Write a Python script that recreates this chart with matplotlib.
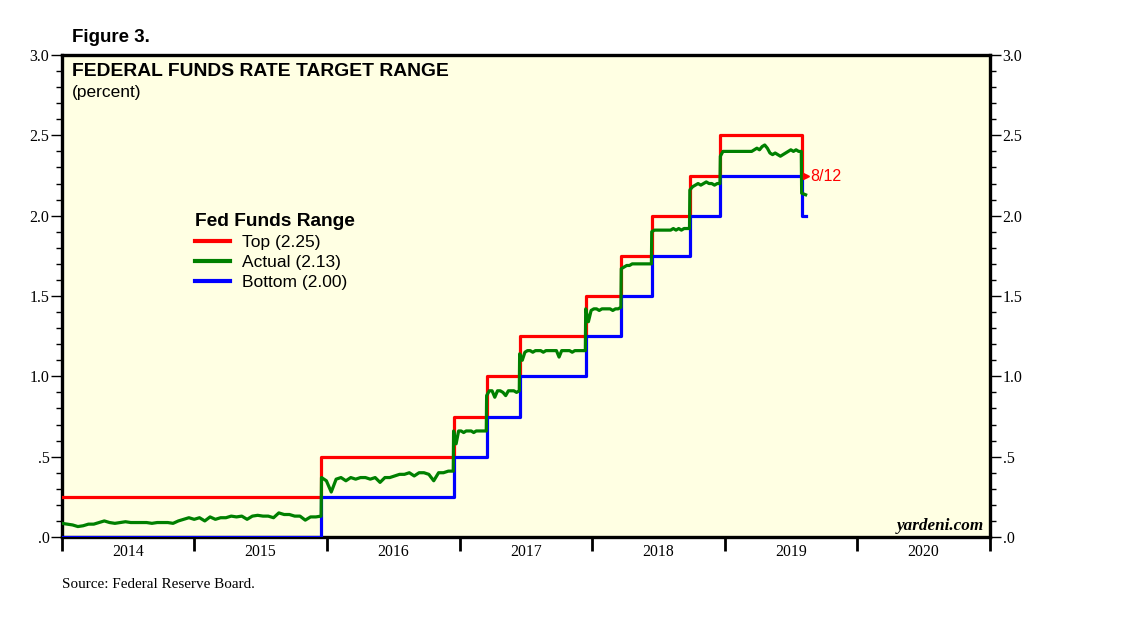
import numpy as np
import pandas as pd
import matplotlib
matplotlib.use("Agg")
from matplotlib import pyplot as plt
import matplotlib.dates as mdates
from matplotlib.ticker import FixedLocator, NullFormatter, FuncFormatter

# target range changes (effective dates)
range_dates = ["2014-01-01", "2015-12-17", "2016-12-15", "2017-03-16", "2017-06-15",
               "2017-12-14", "2018-03-22", "2018-06-14", "2018-09-27", "2018-12-20",
               "2019-08-01", "2019-08-12"]
top_rate = [0.25, 0.50, 0.75, 1.00, 1.25, 1.50, 1.75, 2.00, 2.25, 2.50, 2.25, 2.25]
bottom_rate = [0.00, 0.25, 0.50, 0.75, 1.00, 1.25, 1.50, 1.75, 2.00, 2.25, 2.00, 2.00]

# effective fed funds rate readings, one list per target regime
actual_by_regime = [
    [0.085, 0.08, 0.075, 0.065, 0.07, 0.08, 0.08, 0.09, 0.10, 0.09,
     0.085, 0.09, 0.095, 0.09, 0.09, 0.09, 0.09, 0.085, 0.09, 0.09,
     0.09, 0.085, 0.10, 0.11, 0.12, 0.11, 0.12, 0.10, 0.125, 0.11,
     0.12, 0.12, 0.13, 0.125, 0.13, 0.11, 0.13, 0.135, 0.13, 0.13,
     0.12, 0.15, 0.14, 0.14, 0.13, 0.13, 0.105, 0.125, 0.125, 0.13],
    [0.37, 0.35, 0.28, 0.36, 0.37, 0.35, 0.37, 0.36, 0.37, 0.37,
     0.36, 0.37, 0.34, 0.37, 0.37, 0.38, 0.39, 0.39, 0.40, 0.38,
     0.40, 0.40, 0.39, 0.35, 0.40, 0.40, 0.41, 0.41],
    [0.66, 0.58, 0.66, 0.66, 0.65, 0.66, 0.66, 0.66, 0.65, 0.66,
     0.66, 0.66, 0.66, 0.66],
    [0.88, 0.91, 0.91, 0.87, 0.91, 0.91, 0.90, 0.88, 0.91, 0.91,
     0.91, 0.90, 0.91],
    [1.14, 1.10, 1.15, 1.16, 1.16, 1.15, 1.16, 1.16, 1.16, 1.15,
     1.16, 1.16, 1.16, 1.16, 1.16, 1.12, 1.16, 1.16, 1.16, 1.16,
     1.15, 1.16, 1.16, 1.16, 1.16, 1.16],
    [1.42, 1.34, 1.41, 1.42, 1.42, 1.41, 1.42, 1.42, 1.42, 1.42,
     1.41, 1.42, 1.42, 1.43],
    [1.67, 1.68, 1.69, 1.69, 1.70, 1.70, 1.70, 1.70, 1.70, 1.70,
     1.70, 1.70],
    [1.90, 1.91, 1.91, 1.91, 1.91, 1.91, 1.91, 1.91, 1.92, 1.91,
     1.92, 1.91, 1.92, 1.92, 1.92],
    [2.16, 2.18, 2.19, 2.20, 2.19, 2.20, 2.21, 2.20, 2.20, 2.19,
     2.20, 2.20],
    [2.37, 2.40, 2.40, 2.40, 2.40, 2.40, 2.40, 2.40, 2.40, 2.40,
     2.40, 2.40, 2.40, 2.41, 2.42, 2.41, 2.43, 2.44, 2.42, 2.39,
     2.38, 2.39, 2.38, 2.37, 2.38, 2.39, 2.40, 2.41, 2.40, 2.41,
     2.40, 2.40],
    [2.14, 2.13],
]

years = ["2014", "2015", "2016", "2017", "2018", "2019", "2020"]
ytick_labels = [".0", ".5", "1.0", "1.5", "2.0", "2.5", "3.0"]

# spread each regime's readings over its own dates
rd = mdates.date2num(pd.to_datetime(range_dates))
act_x, act_y = [], []
for i, vals in enumerate(actual_by_regime):
    end = rd[i + 1] - 1 if i + 1 < len(rd) - 1 else rd[-1]
    act_x.extend(np.linspace(rd[i], end, len(vals)))
    act_y.extend(vals)

font_sans = "Liberation Sans"
font_serif = "Liberation Serif"

fig = plt.figure(figsize=(11.38, 6.38), dpi=100)
ax = fig.add_axes([62/1138, 1-537/638, 928/1138, 482/638])
ax.set_facecolor("#FFFFE3")

ax.plot(rd, top_rate, drawstyle="steps-post", color="#FF0000", lw=2.3, label="Top (2.25)", zorder=3)
ax.plot(rd, bottom_rate, drawstyle="steps-post", color="#0000FF", lw=2.3, label="Bottom (2.00)", zorder=3)
ax.plot(act_x, act_y, color="#008000", lw=2.3, label="Actual (2.13)", zorder=4)

ax.set_ylim(0, 3.0)
x0 = mdates.date2num(pd.Timestamp("2014-01-01"))
x1 = mdates.date2num(pd.Timestamp("2021-01-01"))
ax.set_xlim(x0, x1)

for s in ax.spines.values():
    s.set_linewidth(2.4)

# y axis both sides
ax.yaxis.set_major_locator(FixedLocator([0, 0.5, 1.0, 1.5, 2.0, 2.5, 3.0]))
ax.yaxis.set_minor_locator(FixedLocator(np.arange(0, 3.01, 0.1)))
ax.yaxis.set_major_formatter(FuncFormatter(lambda v, p: ytick_labels[int(round(v*2))]))
ax.tick_params(axis="y", which="major", direction="out", length=8, width=1,
               left=True, right=True, labelleft=True, labelright=True,
               labelsize=11.5, pad=1)
ax.tick_params(axis="y", which="minor", direction="out", length=4.5, width=1,
               left=True, right=True)
for lab in ax.get_yticklabels():
    lab.set_family(font_serif)

# x axis: year boundaries as ticks, labels centred in each year
year_starts = [mdates.date2num(pd.Timestamp(f"{y}-01-01")) for y in years] + [x1]
year_mids = [mdates.date2num(pd.Timestamp(f"{y}-07-02")) for y in years]
ax.xaxis.set_major_locator(FixedLocator(year_starts))
ax.xaxis.set_major_formatter(NullFormatter())
ax.set_xticks(year_mids, years, minor=True)
ax.tick_params(axis="x", which="major", direction="out", length=10, width=2)
ax.tick_params(axis="x", which="minor", length=0, labelsize=11.3, pad=5)
for lab in ax.get_xticklabels(minor=True):
    lab.set_family(font_serif)

# titles
fig.text(72/1138, 1-37/638, "Figure 3.", fontsize=13.5, fontweight="bold",
         family=font_sans, va="center", ha="left")
ax.text(10/928, 1-17/482, "FEDERAL FUNDS RATE TARGET RANGE", transform=ax.transAxes,
        fontsize=13.9, fontweight="bold", family=font_sans, va="center", ha="left")
ax.text(10/928, 1-38/482, "(percent)", transform=ax.transAxes,
        fontsize=12.5, family=font_sans, va="center", ha="left")

# legend
h, l = ax.get_legend_handles_labels()
order = [0, 2, 1]
leg = ax.legend([h[i] for i in order], [l[i] for i in order],
                loc="upper left", bbox_to_anchor=(195/1138, 1-213/638),
                bbox_transform=fig.transFigure, frameon=False,
                title="Fed Funds Range", alignment="left",
                prop={"family": font_sans, "size": 12.5},
                handlelength=2.0, handletextpad=0.7, labelspacing=0.28,
                borderaxespad=0, borderpad=0)
leg.get_title().set_fontweight("bold")
leg.get_title().set_fontsize(13.8)
leg.get_title().set_family(font_sans)
for line in leg.get_lines():
    line.set_linewidth(3)

# last reading marker and label
ax.plot([rd[-1]], [top_rate[-1]], marker=">", color="#FF0000", ms=4, zorder=5)
ax.annotate("8/12", xy=(rd[-1], top_rate[-1]), xytext=(3.5, -1), textcoords="offset points",
            color="#FF0000", fontsize=11.5, family=font_sans, va="center", ha="left")

ax.text(1-6/928, 11/482, "yardeni.com", transform=ax.transAxes, fontsize=12.3,
        fontweight="bold", style="italic", family=font_serif, ha="right", va="center")

fig.text(62/1138, 1-585/638, "Source: Federal Reserve Board.", fontsize=10.9,
         family=font_serif, ha="left", va="center")

fig.savefig("out.png", dpi=100)
